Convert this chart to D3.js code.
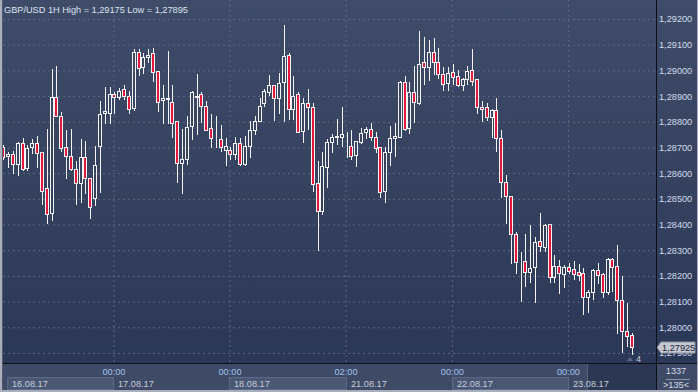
<!DOCTYPE html>
<html>
<head>
<meta charset="utf-8">
<script src="https://cdn.jsdelivr.net/npm/d3@7"></script>
<style>
body { margin: 0; background: #2c3856; }
svg { display: block; font-family: "Liberation Sans", Arial, sans-serif; }
</style>
</head>
<body>
<svg id="chart" width="698" height="392"></svg>
<script>
// GBP/USD 1H candles (oldest first)
var opens = [
  1.28701,1.28665,1.28673,1.28634,1.28716,1.28619,1.28701,1.28716,1.28681,1.28541,
  1.28444,1.28895,1.28824,1.28701,1.28668,1.28615,1.28563,1.28662,1.28580,1.28502,
  1.28707,1.28836,1.28835,1.28907,1.28895,1.28926,1.28900,1.28855,1.29070,1.29012,
  1.29053,1.29066,1.28998,1.28885,1.28888,1.28876,1.28803,1.28638,1.28654,1.28785,
  1.28900,1.28907,1.28862,1.28774,1.28738,1.28732,1.28690,1.28690,1.28673,1.28716,
  1.28634,1.28707,1.28768,1.28804,1.28872,1.28917,1.28943,1.28891,1.28954,1.29060,
  1.28848,1.28908,1.28765,1.28872,1.28856,1.28560,1.28454,1.28625,1.28720,1.28741,
  1.28742,1.28706,1.28706,1.28671,1.28722,1.28759,1.28772,1.28742,1.28701,1.28532,
  1.28683,1.28736,1.28742,1.28954,1.28774,1.28915,1.28874,1.29031,1.29012,1.29073,
  1.29034,1.28985,1.28950,1.28995,1.28979,1.28943,1.28966,1.29001,1.28965,1.28856,
  1.28856,1.28820,1.28846,1.28736,1.28567,1.28512,1.28362,1.28259,1.28259,1.28214,
  1.28233,1.28336,1.28314,1.28402,1.28197,1.28240,1.28207,1.28233,1.28226,1.28214,
  1.28210,1.28117,1.28136,1.28223,1.28206,1.28138,1.28265,1.28240,1.28106,1.27985,
  1.27970];
var highs = [
  1.28710,1.28683,1.28686,1.28722,1.28736,1.28710,1.28733,1.28743,1.28681,1.28771,
  1.29004,1.29017,1.28839,1.28768,1.28771,1.28648,1.28733,1.28725,1.28580,1.28706,
  1.28881,1.28934,1.28934,1.28917,1.28933,1.28943,1.28920,1.29082,1.29082,1.29066,
  1.29082,1.29088,1.28998,1.28943,1.29075,1.28943,1.28803,1.28772,1.28822,1.28920,
  1.28985,1.28916,1.28881,1.28830,1.28822,1.28787,1.28736,1.28703,1.28740,1.28738,
  1.28745,1.28804,1.28822,1.28891,1.28926,1.28982,1.28943,1.28989,1.29175,1.29066,
  1.28978,1.28916,1.28894,1.28926,1.28872,1.28647,1.28682,1.28733,1.28752,1.28811,
  1.28856,1.28759,1.28768,1.28725,1.28777,1.28778,1.28794,1.28759,1.28701,1.28703,
  1.28783,1.28794,1.28959,1.28978,1.28956,1.29017,1.29153,1.29129,1.29118,1.29125,
  1.29086,1.29012,1.29012,1.29025,1.29001,1.28969,1.29017,1.29082,1.28965,1.28881,
  1.28872,1.28848,1.28891,1.28768,1.28593,1.28512,1.28372,1.28292,1.28363,1.28398,
  1.28350,1.28446,1.28402,1.28402,1.28281,1.28262,1.28242,1.28249,1.28258,1.28245,
  1.28229,1.28145,1.28226,1.28249,1.28210,1.28268,1.28268,1.28320,1.28200,1.28093,
  1.27979];
var lows = [
  1.28655,1.28625,1.28602,1.28593,1.28612,1.28612,1.28680,1.28625,1.28479,1.28405,
  1.28418,1.28824,1.28687,1.28580,1.28612,1.28480,1.28489,1.28521,1.28424,1.28476,
  1.28528,1.28794,1.28795,1.28835,1.28887,1.28887,1.28833,1.28846,1.28982,1.28989,
  1.29034,1.28960,1.28843,1.28794,1.28794,1.28740,1.28567,1.28524,1.28634,1.28732,
  1.28751,1.28800,1.28768,1.28700,1.28700,1.28687,1.28632,1.28654,1.28654,1.28631,
  1.28631,1.28662,1.28751,1.28804,1.28862,1.28904,1.28807,1.28833,1.28804,1.28811,
  1.28810,1.28759,1.28720,1.28772,1.28532,1.28301,1.28441,1.28547,1.28683,1.28712,
  1.28706,1.28664,1.28654,1.28629,1.28718,1.28736,1.28729,1.28683,1.28508,1.28489,
  1.28632,1.28668,1.28742,1.28768,1.28755,1.28800,1.28869,1.28947,1.28963,1.28986,
  1.28969,1.28924,1.28924,1.28946,1.28940,1.28924,1.28947,1.28943,1.28835,1.28804,
  1.28807,1.28742,1.28687,1.28508,1.28407,1.28249,1.28210,1.28103,1.28162,1.28177,
  1.28099,1.28298,1.28298,1.28177,1.28177,1.28135,1.28158,1.28210,1.28187,1.28184,
  1.28050,1.28058,1.28109,1.28171,1.28119,1.28128,1.28142,1.27976,1.27905,1.27928,
  1.27895];
var closes = [
  1.28662,1.28673,1.28634,1.28716,1.28615,1.28697,1.28716,1.28680,1.28532,1.28440,
  1.28895,1.28824,1.28699,1.28668,1.28615,1.28563,1.28662,1.28580,1.28467,1.28632,
  1.28830,1.28840,1.28908,1.28895,1.28920,1.28900,1.28848,1.29070,1.29010,1.29051,
  1.29060,1.28995,1.28878,1.28891,1.28892,1.28794,1.28638,1.28654,1.28778,1.28917,
  1.28898,1.28862,1.28768,1.28736,1.28737,1.28703,1.28706,1.28673,1.28716,1.28634,
  1.28706,1.28768,1.28803,1.28862,1.28920,1.28943,1.28891,1.28950,1.29056,1.28848,
  1.28900,1.28759,1.28872,1.28856,1.28558,1.28454,1.28628,1.28720,1.28740,1.28744,
  1.28751,1.28705,1.28668,1.28725,1.28755,1.28772,1.28742,1.28699,1.28528,1.28683,
  1.28736,1.28745,1.28954,1.28771,1.28915,1.28876,1.29024,1.29012,1.29070,1.29034,
  1.28985,1.28946,1.28989,1.28975,1.28943,1.28965,1.28998,1.28960,1.28856,1.28848,
  1.28820,1.28846,1.28736,1.28567,1.28512,1.28362,1.28255,1.28257,1.28214,1.28229,
  1.28331,1.28316,1.28398,1.28197,1.28240,1.28210,1.28233,1.28220,1.28207,1.28203,
  1.28117,1.28136,1.28223,1.28203,1.28136,1.28265,1.28233,1.28106,1.27985,1.27967,
  1.27925];

var yTicks = [1.279,1.280,1.281,1.282,1.283,1.284,1.285,1.286,1.287,1.288,1.289,1.290,1.291,1.292];
var timeTickIdx = [23, 47, 71, 93, 117];
var timeTickLabels = ["00:00", "00:00", "02:00", "00:00", "00:00"];
var dayStartIdx = [0, 23, 47, 71, 93, 117];
var dayLabels = ["16.08.17", "17.08.17", "18.08.17", "21.08.17", "22.08.17", "23.08.17"];
var slots = 135;
var lastPrice = 1.27925;
var title = "GBP/USD 1H High = 1,29175 Low = 1,27895";

var W = 698, H = 392;
var plot = {l: 3, r: 656, t: 0, b: 363};
var fs = "9.2px";

var svg = d3.select("#chart");
var defs = svg.append("defs");
var grad = defs.append("linearGradient").attr("id", "bg").attr("x1", 0).attr("y1", 0).attr("x2", 0).attr("y2", 1);
grad.append("stop").attr("offset", "0%").attr("stop-color", "#3f4c69");
grad.append("stop").attr("offset", "100%").attr("stop-color", "#2b3756");
defs.append("clipPath").attr("id", "clip").append("rect")
  .attr("x", plot.l).attr("y", plot.t).attr("width", plot.r - plot.l).attr("height", plot.b - plot.t);

// backgrounds
svg.append("rect").attr("x", 0).attr("y", 0).attr("width", W).attr("height", plot.b).attr("fill", "url(#bg)");
svg.append("rect").attr("x", 0).attr("y", plot.b).attr("width", W).attr("height", H - plot.b).attr("fill", "#3e4a66");

// scales
var x = d3.scaleLinear().domain([0, slots]).range([3.3, 3.3 + slots * 4.834]);
var y = d3.scaleLinear().domain([1.279, 1.292]).range([353, 19]);
var xGrid = x.copy().range(x.range().map(function(v){ return v - 1; }));
var fmt = function(d){ return d3.format(".5f")(d).replace(".", ","); };

// horizontal grid
var gy = svg.append("g").attr("transform", "translate(" + plot.l + ",0)")
  .call(d3.axisLeft(y).tickValues(yTicks).tickSize(-(plot.r - plot.l)).tickFormat(""));
gy.select(".domain").remove();
gy.selectAll("line").attr("stroke", "#5a6784").attr("stroke-dasharray", "2,3");

// vertical grid
var gx = svg.append("g").attr("transform", "translate(0," + plot.t + ")")
  .call(d3.axisBottom(xGrid).tickValues(timeTickIdx).tickSize(plot.b - plot.t).tickFormat(""));
gx.select(".domain").remove();
gx.selectAll("line").attr("stroke", "#5a6784").attr("stroke-dasharray", "2,3");

// candles
var data = opens.map(function(o, i){ return {i: i, o: o, h: highs[i], l: lows[i], c: closes[i]}; });
var cg = svg.append("g").attr("clip-path", "url(#clip)");
var cand = cg.selectAll(".candle").data(data).enter().append("g").attr("class", "candle");
function cx(d){ return Math.round(x(d.i)) + 0.5; }
function bodyTop(d){ return Math.round(y(Math.max(d.o, d.c))) + 0.5; }
function bodyBot(d){ return Math.round(y(Math.min(d.o, d.c))) + 0.5; }
cand.append("line").attr("x1", cx).attr("x2", cx)
  .attr("y1", function(d){ return Math.round(y(d.h)); }).attr("y2", bodyTop)
  .attr("stroke", "#f4f4f4");
cand.append("line").attr("x1", cx).attr("x2", cx)
  .attr("y1", bodyBot).attr("y2", function(d){ return Math.round(y(d.l)) + 1; })
  .attr("stroke", "#f4f4f4");
cand.append("rect")
  .attr("x", function(d){ return cx(d) - 2; })
  .attr("y", bodyTop)
  .attr("width", 3)
  .attr("height", function(d){ return Math.max(0, bodyBot(d) - bodyTop(d)); })
  .attr("fill", function(d){ return d.c < d.o ? "#e2183c" : "none"; })
  .attr("stroke", "#f4f4f4");

// title
svg.append("text").attr("x", 4).attr("y", 12.5).attr("fill", "#dde3ee").style("font-size", fs).text(title);

// right axis labels
var ay = svg.append("g").attr("transform", "translate(" + (plot.r + 1) + ",0)")
  .call(d3.axisRight(y).tickValues(yTicks).tickSize(0).tickPadding(2).tickFormat(fmt));
ay.select(".domain").remove();
ay.selectAll("text").attr("fill", "#d3ddee").style("font-size", fs).style("font-family", "Liberation Sans, Arial, sans-serif");

// last price marker
var ly = Math.round(y(lastPrice)) + 0.5;
svg.append("path")
  .attr("d", "M657," + ly + "L661," + (ly - 5.5) + "H695V" + (ly + 5.5) + "H661Z")
  .attr("fill", "#c4c8d0").attr("stroke", "#8d93a0");
svg.append("text").attr("x", 662).attr("y", ly + 3.5).attr("fill", "#1b2336").style("font-size", fs).text(fmt(lastPrice));

// bar count near last candle
svg.append("path").attr("d", "M627,361L630,357L633,361Z").attr("fill", "#5d6781");
svg.append("text").attr("x", 636).attr("y", 362).attr("fill", "#c8d0dc").style("font-size", "9px").text("4");

// date boxes on the bottom strip
var dayEnds = dayStartIdx.slice(1).concat([slots]);
dayStartIdx.forEach(function(s, k){
  var x0 = k === 0 ? 7 : Math.round(xGrid(s));
  var x1 = Math.round(xGrid(dayEnds[k]));
  if (k % 2 === 0 && k < dayStartIdx.length - 1) {
    svg.append("rect").attr("x", x0 + 0.5).attr("y", 377.5).attr("width", x1 - x0).attr("height", 12)
      .attr("fill", "#4a5775").attr("stroke", "#5b6886");
  }
});
// darker scroll window
svg.append("rect").attr("x", 587).attr("y", plot.b + 1).attr("width", plot.r - 587).attr("height", 26).attr("fill", "#2c3753");
svg.append("line").attr("x1", 587.5).attr("x2", 587.5).attr("y1", plot.b + 1).attr("y2", plot.b + 27).attr("stroke", "#56617a");

var ax = svg.append("g").attr("transform", "translate(0," + plot.b + ")")
  .call(d3.axisBottom(xGrid).tickValues(timeTickIdx).tickSize(0).tickPadding(5)
    .tickFormat(function(d, i){ return timeTickLabels[i]; }));
ax.select(".domain").remove();
ax.selectAll("text").attr("fill", "#a3c2ec").style("font-size", fs).style("font-family", "Liberation Sans, Arial, sans-serif");

svg.selectAll(".daylbl").data(dayLabels).enter().append("text")
  .attr("class", "daylbl")
  .attr("x", function(d, k){ return k === 0 ? 12 : Math.round(xGrid(dayStartIdx[k])) + 5; })
  .attr("y", 387)
  .attr("fill", "#c6cedb").style("font-size", fs)
  .text(function(d){ return d; });

// bottom-right cell
svg.append("text").attr("x", 676).attr("y", 374).attr("text-anchor", "middle").attr("fill", "#d6dce8").style("font-size", fs).text("1337");
svg.append("line").attr("x1", 666).attr("x2", 690).attr("y1", 379.5).attr("y2", 379.5).attr("stroke", "#8d96a8");
svg.append("text").attr("x", 676).attr("y", 387.5).attr("text-anchor", "middle").attr("fill", "#d6dce8").style("font-size", fs).text(">135<");

// separators and frame
svg.append("line").attr("x1", 0).attr("x2", W).attr("y1", plot.b + 0.5).attr("y2", plot.b + 0.5).attr("stroke", "#0c0f16");
svg.append("line").attr("x1", plot.r + 0.5).attr("x2", plot.r + 0.5).attr("y1", 0).attr("y2", H).attr("stroke", "#0c0f16");
svg.append("rect").attr("x", 0).attr("y", 0).attr("width", 2).attr("height", H).attr("fill", "#a8aebb");
svg.append("rect").attr("x", 2).attr("y", 0).attr("width", 1).attr("height", H - 2).attr("fill", "#525a6a");
svg.append("rect").attr("x", 0).attr("y", H - 2).attr("width", W).attr("height", 2).attr("fill", "#a8aebb");
svg.append("rect").attr("x", W - 1).attr("y", 0).attr("width", 1).attr("height", H).attr("fill", "#a8aebb");
</script>
</body>
</html>
